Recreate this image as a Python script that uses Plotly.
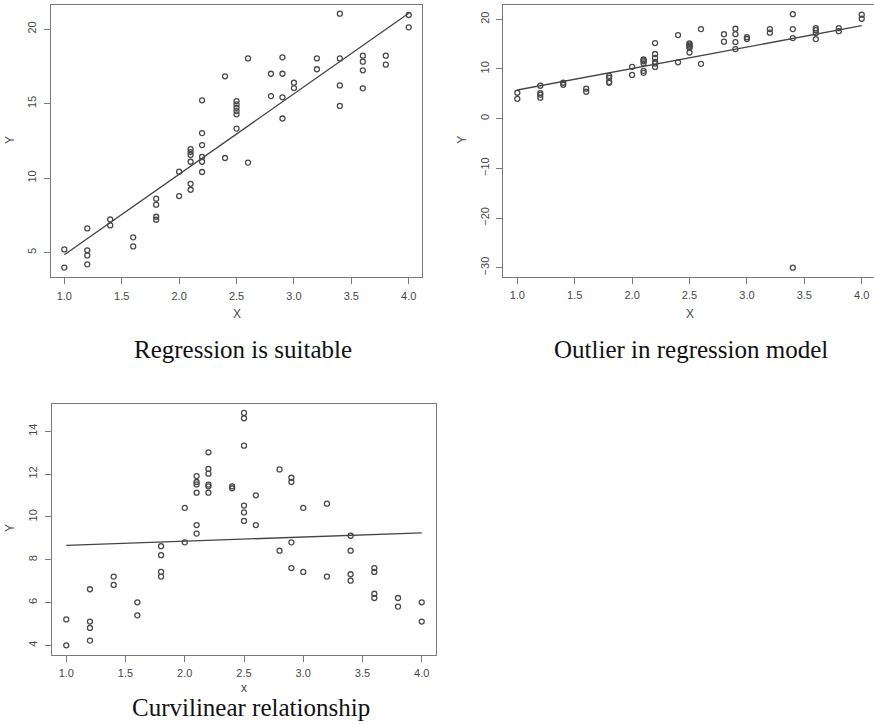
import plotly.graph_objects as go

# ---------------- data ----------------
x_vals = [1.0, 1.0,
          1.2, 1.2, 1.2, 1.2,
          1.4, 1.4,
          1.6, 1.6,
          1.8, 1.8, 1.8, 1.8,
          2.0, 2.0,
          2.1, 2.1, 2.1, 2.1, 2.1, 2.1,
          2.2, 2.2, 2.2, 2.2, 2.2, 2.2,
          2.4, 2.4,
          2.5, 2.5, 2.5, 2.5, 2.5, 2.5,
          2.6, 2.6,
          2.8, 2.8,
          2.9, 2.9, 2.9, 2.9,
          3.0, 3.0,
          3.2, 3.2,
          3.4, 3.4, 3.4, 3.4,
          3.6, 3.6, 3.6, 3.6,
          3.8, 3.8,
          4.0, 4.0]

y_suitable = [5.22, 4.0,
              6.63, 5.16, 4.82, 4.22,
              7.23, 6.83,
              6.03, 5.42,
              8.62, 8.22, 7.41, 7.21,
              10.43, 8.8,
              11.95, 11.75, 11.55, 11.1, 9.62, 9.22,
              15.22, 13.02, 12.22, 11.42, 11.1, 10.41,
              16.83, 11.35,
              15.17, 14.95, 14.72, 14.5, 14.28, 13.32,
              18.03, 11.04,
              17.0, 15.5,
              18.1, 17.0, 15.42, 14.0,
              16.4, 16.04,
              18.03, 17.3,
              21.03, 18.03, 16.22, 14.84,
              18.21, 17.81, 17.23, 16.02,
              18.21, 17.61,
              20.94, 20.11]

y_outlier = [5.22, 4.0,
             6.63, 5.16, 4.82, 4.22,
             7.23, 6.83,
             6.03, 5.42,
             8.62, 8.22, 7.41, 7.21,
             10.43, 8.8,
             11.95, 11.75, 11.55, 11.1, 9.62, 9.22,
             15.22, 13.02, 12.22, 11.42, 11.1, 10.41,
             16.83, 11.35,
             15.17, 14.95, 14.72, 14.5, 14.28, 13.32,
             18.03, 11.04,
             17.0, 15.5,
             18.1, 17.0, 15.42, 14.0,
             16.4, 16.04,
             18.03, 17.3,
             21.03, 18.03, 16.22, -30.0,
             18.21, 17.81, 17.23, 16.02,
             18.21, 17.61,
             20.94, 20.11]

y_curvi = [5.21, 4.0,
           6.62, 5.11, 4.81, 4.22,
           7.21, 6.82,
           6.01, 5.40,
           8.63, 8.21, 7.43, 7.21,
           10.42, 8.81,
           11.91, 11.63, 11.52, 11.13, 9.62, 9.22,
           13.02, 12.24, 12.02, 11.51, 11.43, 11.13,
           11.43, 11.34,
           14.86, 14.61, 13.33, 10.53, 10.21, 9.81,
           11.01, 9.62,
           12.22, 8.42,
           11.83, 11.63, 8.81, 7.61,
           10.42, 7.43,
           10.62, 7.21,
           9.12, 8.42, 7.32, 7.02,
           7.61, 7.43, 6.41, 6.21,
           6.21, 5.81,
           6.01, 5.11]

# fitted lines (intercept, slope) as drawn in the picture
fit_intercepts = [-0.54, 1.45, 8.48]
fit_slopes = [5.40, 4.32, 0.193]
fit_x = [1.0, 4.0]

captions = ["Regression is suitable", "Outlier in regression model", "Curvilinear relationship"]
x_titles = ["X", "X", "x"]
y_titles = ["Y", "Y", "Y"]
x_ticks = [1.0, 1.5, 2.0, 2.5, 3.0, 3.5, 4.0]
x_ticktext = ["1.0", "1.5", "2.0", "2.5", "3.0", "3.5", "4.0"]
y_ticks = [[5, 10, 15, 20], [-30, -20, -10, 0, 10, 20], [4, 6, 8, 10, 12, 14]]

# ---------------- figure ----------------
W, H = 874, 724
PT = "#4a4a4a"
FRAME = "#7a7a7a"
TXT = "#484848"

fig = go.Figure()
series = [y_suitable, y_outlier, y_curvi]
for i, ys in enumerate(series):
    xa = "x" if i == 0 else f"x{i+1}"
    ya = "y" if i == 0 else f"y{i+1}"
    fig.add_trace(go.Scatter(
        x=x_vals, y=ys, mode="markers", xaxis=xa, yaxis=ya,
        marker=dict(symbol="circle-open", size=5, color=PT, line=dict(width=1.3, color=PT)),
        showlegend=False, hoverinfo="x+y"))
    fy = [fit_intercepts[i] + fit_slopes[i] * v for v in fit_x]
    fig.add_trace(go.Scatter(
        x=fit_x, y=fy, mode="lines", xaxis=xa, yaxis=ya,
        line=dict(color="#444444", width=1.3), showlegend=False, hoverinfo="skip"))

# plot area pixel boxes: (left, right, top, bottom)
boxes = [(50.7, 422.3, 4.7, 277.3), (503.3, 874.0, 4.7, 276.7), (51.7, 435.7, 404.0, 655.0)]
x_ranges = [[0.8815, 4.118], [0.878, 4.107], [0.877, 4.118]]
y_ranges = [[3.35, 21.63], [-31.81, 22.94], [3.547, 15.276]]

tickfont = dict(family="Liberation Sans, Arial, sans-serif", size=11, color=TXT)
layout = dict(width=W, height=H, margin=dict(l=0, r=0, t=0, b=0),
              paper_bgcolor="white", plot_bgcolor="white", showlegend=False)
annotations = []
for i in range(3):
    l, r, t, b = boxes[i]
    sx = "" if i == 0 else str(i + 1)
    layout["xaxis" + sx] = dict(
        domain=[l / W, min(r / W, 1.0)], range=x_ranges[i], anchor="y" + sx,
        tickvals=x_ticks, ticktext=x_ticktext, ticks="outside", ticklen=6, tickwidth=1,
        tickcolor=FRAME, showline=True, linecolor=FRAME, linewidth=1.3, mirror=True,
        showgrid=False, zeroline=False, tickfont=tickfont, ticklabelstandoff=2)
    layout["yaxis" + sx] = dict(
        domain=[1 - b / H, 1 - t / H], range=y_ranges[i], anchor="x" + sx,
        tickvals=y_ticks[i], ticks="outside", ticklen=6, tickwidth=1, tickangle=-90,
        tickcolor=FRAME, showline=True, linecolor=FRAME, linewidth=1.3,
        mirror=(i != 1), showgrid=False, zeroline=False, tickfont=tickfont,
        ticklabelstandoff=3)

# axis titles and captions (pixel positions)
xt_pos = [(236.5, 314), (689.5, 314), (243.7, 688)]
yt_pos = [(10, 140), (461.7, 140), (10, 528)]
cap_pos = [(242.5, 349), (691, 349), (250.5, 707)]
for i in range(3):
    annotations.append(dict(text=x_titles[i], x=xt_pos[i][0] / W, y=1 - xt_pos[i][1] / H,
                            xref="paper", yref="paper", showarrow=False, xanchor="center",
                            yanchor="middle", font=dict(family="Liberation Sans, Arial", size=12, color=TXT)))
    annotations.append(dict(text=y_titles[i], x=yt_pos[i][0] / W, y=1 - yt_pos[i][1] / H,
                            xref="paper", yref="paper", showarrow=False, xanchor="center",
                            yanchor="middle", textangle=-90,
                            font=dict(family="Liberation Sans, Arial", size=12, color=TXT)))
    annotations.append(dict(text=captions[i], x=cap_pos[i][0] / W, y=1 - cap_pos[i][1] / H,
                            xref="paper", yref="paper", showarrow=False, xanchor="center",
                            yanchor="middle",
                            font=dict(family="Liberation Serif, Times New Roman, serif", size=25, color="#111111")))
layout["annotations"] = annotations
fig.update_layout(**layout)
fig.write_html("out.html", config={"displayModeBar": False},
               post_script="document.body.style.margin='0';document.body.style.overflow='hidden';")
